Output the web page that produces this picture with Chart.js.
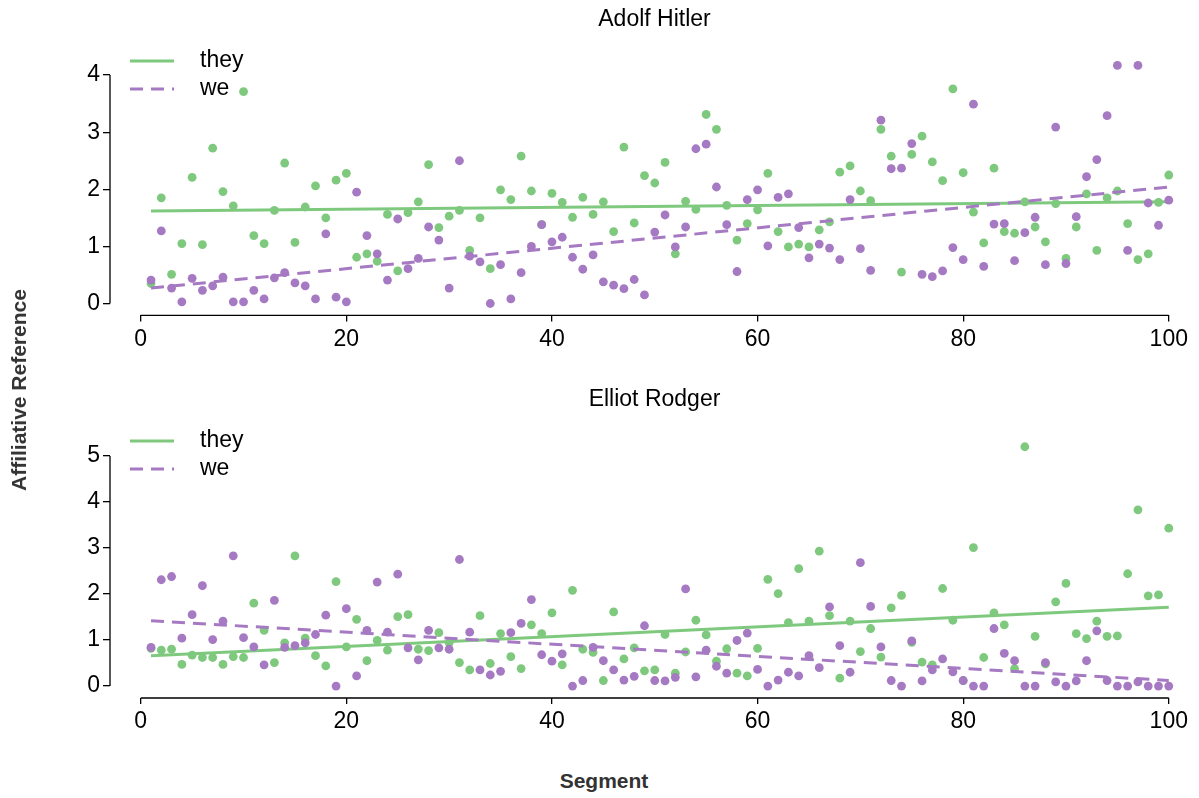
<!DOCTYPE html>
<html>
<head>
<meta charset="utf-8">
<script src="https://cdn.jsdelivr.net/npm/chart.js@4.4.0/dist/chart.umd.min.js"></script>
<style>
  body { margin: 0; background: #fff; width: 1199px; height: 798px; position: relative; overflow: hidden; font-family: "Liberation Sans", Arial, sans-serif; }
  canvas { position: absolute; left: 0; }
  #top { top: 0; }
  #bottom { top: 380px; }
  .lab { position: absolute; font-weight: bold; font-size: 21px; color: #333; white-space: nowrap; }
  #ylab { left: 19px; top: 390px; transform: translate(-50%, -50%) rotate(-90deg); }
  #xlab { left: 604px; top: 781px; transform: translate(-50%, -50%); }
</style>
</head>
<body>
<canvas id="top" width="1199" height="380"></canvas>
<canvas id="bottom" width="1199" height="380"></canvas>
<div class="lab" id="ylab">Affiliative Reference</div>
<div class="lab" id="xlab">Segment</div>
<script>
// segment numbers (x)
var segments = [1,2,3,4,5,6,7,8,9,10,11,12,13,14,15,16,17,18,19,20,
  21,22,23,24,25,26,27,28,29,30,31,32,33,34,35,36,37,38,39,40,
  41,42,43,44,45,46,47,48,49,50,51,52,53,54,55,56,57,58,59,60,
  61,62,63,64,65,66,67,68,69,70,71,72,73,74,75,76,77,78,79,80,
  81,82,83,84,85,86,87,88,89,90,91,92,93,94,95,96,97,98,99,100];

// Adolf Hitler
var hitlerThey = [0.35,1.85,0.51,1.05,2.21,1.03,2.72,1.96,1.71,3.71,1.19,1.05,1.63,2.46,1.07,1.69,2.06,1.50,2.16,2.28,
  0.81,0.87,0.74,1.56,0.57,1.59,1.78,2.43,1.33,1.53,1.63,0.93,1.50,0.61,1.99,1.82,2.58,1.97,1.38,1.93,
  1.77,1.51,1.86,1.56,1.78,1.26,2.74,1.41,2.24,2.11,2.47,0.87,1.79,1.65,3.31,3.05,1.72,1.11,1.40,1.64,
  2.28,1.26,0.99,1.04,0.99,1.29,1.43,2.30,2.41,1.97,1.80,3.05,2.58,0.55,2.61,2.93,2.48,2.15,3.76,2.29,
  1.60,1.06,2.37,1.26,1.23,1.78,1.34,1.08,1.75,0.79,1.34,1.92,0.93,1.85,1.97,1.40,0.77,0.87,1.77,2.25];
var hitlerWe = [0.41,1.27,0.27,0.03,0.44,0.23,0.31,0.46,0.03,0.03,0.23,0.08,0.45,0.54,0.36,0.31,0.08,1.22,0.11,0.03,
  1.95,1.19,0.87,0.41,1.48,0.61,0.79,1.34,1.11,0.27,2.50,0.83,0.73,0.00,0.68,0.08,0.54,1.00,1.38,1.08,
  1.16,0.81,0.60,0.85,0.38,0.32,0.26,0.42,0.15,1.25,1.55,0.99,1.34,2.71,2.79,2.04,1.38,0.56,1.82,1.99,
  1.01,1.86,1.92,1.33,0.80,1.04,0.97,0.77,1.82,0.96,0.58,3.21,2.36,2.37,2.80,0.51,0.47,0.57,0.98,0.77,
  3.49,0.65,1.39,1.40,0.75,1.24,1.51,0.68,3.09,0.70,1.52,2.22,2.52,3.29,4.17,0.93,4.17,1.76,1.37,1.81];

// Elliot Rodger
var rodgerThey = [0.82,0.78,0.80,0.47,0.67,0.62,0.62,0.47,0.64,0.62,1.80,1.21,0.51,0.94,2.83,1.04,0.66,0.44,2.27,0.85,
  1.45,0.55,0.99,0.78,1.51,1.55,0.80,0.77,1.16,0.94,0.51,0.35,1.53,0.49,1.14,0.64,0.38,1.33,1.14,1.59,
  0.46,2.08,0.80,0.73,0.12,1.61,0.59,0.83,0.33,0.35,1.12,0.28,0.74,1.43,1.11,0.54,0.81,0.28,0.22,0.82,
  2.32,2.01,1.38,2.55,1.41,2.93,1.53,0.17,1.41,0.75,1.25,0.63,1.70,1.97,0.95,0.52,0.46,2.12,1.43,0.12,
  3.01,0.62,1.59,1.33,0.38,5.20,1.08,0.48,1.83,2.23,1.14,1.03,1.41,1.08,1.09,2.44,3.83,1.96,1.98,3.43];
var rodgerWe = [0.84,2.31,2.38,1.04,1.55,2.18,1.01,1.41,2.83,1.05,0.85,0.46,1.86,0.84,0.88,0.94,1.12,1.54,0.00,1.68,
  0.22,1.21,2.26,1.17,2.43,0.83,0.57,1.21,0.83,0.80,2.75,1.17,0.35,0.24,0.32,1.16,1.36,1.88,0.68,0.54,
  0.70,0.00,0.12,0.84,0.55,0.35,0.13,0.21,1.31,0.12,0.11,0.19,2.11,0.20,0.78,0.43,0.28,0.99,1.15,0.36,
  0.00,0.13,0.30,0.22,0.66,0.40,1.72,0.88,0.30,2.68,1.73,0.85,0.12,0.00,0.98,0.11,0.35,0.59,0.31,0.12,
  0.00,0.00,1.25,0.71,0.55,0.00,0.00,0.51,0.09,0.00,0.11,0.55,1.20,0.12,0.00,0.00,0.09,0.00,0.00,0.00];

// fitted trend lines, value at segment 1 and segment 100
var fitX = [1, 100];
var hitlerTheyFit = [1.62, 1.78];
var hitlerWeFit = [0.27, 2.04];
var rodgerTheyFit = [0.66, 1.71];
var rodgerWeFit = [1.42, 0.12];

var xTicks = [0, 20, 40, 60, 80, 100];
var hitlerTicks = [0, 1, 2, 3, 4];
var rodgerTicks = [0, 1, 2, 3, 4, 5];

var GREEN = '#7fc97f';
var PURPLE = '#a679c3';
var FONT = '"Liberation Sans", Arial, sans-serif';
Chart.defaults.font.family = FONT;
Chart.defaults.color = '#000';

function pts(ys) { return segments.map(function (s, i) { return { x: s, y: ys[i] }; }); }
function fit(ys) { return fitX.map(function (s, i) { return { x: s, y: ys[i] }; }); }

// trimmed spines (seaborn despine trim style)
var spinePlugin = {
  id: 'spines',
  afterDraw: function (chart) {
    var ctx = chart.ctx, a = chart.chartArea, xs = chart.scales.x, ys = chart.scales.y;
    var yt = chart.options.scales.y.tickValues;
    ctx.save();
    ctx.strokeStyle = '#000';
    ctx.lineWidth = 1.3;
    ctx.beginPath();
    ctx.moveTo(a.left, ys.getPixelForValue(yt[0]));
    ctx.lineTo(a.left, ys.getPixelForValue(yt[yt.length - 1]));
    ctx.moveTo(xs.getPixelForValue(xTicks[0]), a.bottom);
    ctx.lineTo(xs.getPixelForValue(xTicks[xTicks.length - 1]), a.bottom);
    ctx.stroke();
    ctx.restore();
  }
};

// legend inside the plot, upper left
var legendPlugin = {
  id: 'innerLegend',
  afterDraw: function (chart) {
    var ctx = chart.ctx;
    var items = chart.data.datasets.filter(function (d) { return d.inLegend; });
    ctx.save();
    items.forEach(function (d, i) {
      var y = 61 + i * 28;
      ctx.strokeStyle = d.borderColor;
      ctx.lineWidth = 3;
      ctx.setLineDash(d.borderDash || []);
      ctx.beginPath();
      ctx.moveTo(130, y);
      ctx.lineTo(174, y);
      ctx.stroke();
      ctx.setLineDash([]);
      ctx.fillStyle = '#000';
      ctx.font = '23px ' + FONT;
      ctx.textBaseline = 'middle';
      ctx.fillText(d.label, 200, y);
    });
    ctx.restore();
  }
};

function makeChart(id, title, they, we, theyFit, weFit, yMin, yMax, yTicks, titleBottom, xAxisH) {
  new Chart(document.getElementById(id), {
    type: 'scatter',
    data: {
      datasets: [
        { label: 'they pts', data: pts(they), backgroundColor: GREEN, borderWidth: 0, pointRadius: 4.4, order: 4 },
        { label: 'they', type: 'line', data: fit(theyFit), borderColor: GREEN, borderWidth: 3, pointRadius: 0, showLine: true, fill: false, order: 3, inLegend: true },
        { label: 'we pts', data: pts(we), backgroundColor: PURPLE, borderWidth: 0, pointRadius: 4.4, order: 2 },
        { label: 'we', type: 'line', data: fit(weFit), borderColor: PURPLE, borderWidth: 3, borderDash: [13, 8], pointRadius: 0, showLine: true, fill: false, order: 1, inLegend: true }
      ]
    },
    options: {
      responsive: false,
      animation: false,
      events: [],
      layout: { padding: 0, autoPadding: false },
      plugins: {
        legend: { display: false },
        tooltip: { enabled: false },
        title: {
          display: true, text: title, color: '#000', fullSize: false,
          font: { size: 23, weight: 'normal' },
          padding: { top: 6, bottom: titleBottom }
        }
      },
      scales: {
        x: {
          type: 'linear', min: -2.99, max: 102.94,
          afterBuildTicks: function (s) { s.ticks = xTicks.map(function (v) { return { value: v }; }); },
          afterFit: function (s) { s.height = xAxisH; s.paddingLeft = 0; s.paddingRight = 0; },
          grid: { display: true, drawOnChartArea: false, drawTicks: true, tickLength: 6, color: '#000', lineWidth: 1.3 },
          border: { display: false },
          ticks: { color: '#000', font: { size: 23 }, padding: 4, maxRotation: 0, autoSkip: false }
        },
        y: {
          type: 'linear', min: yMin, max: yMax, tickValues: yTicks,
          afterBuildTicks: function (s) { s.ticks = yTicks.map(function (v) { return { value: v }; }); },
          afterFit: function (s) { s.width = 110; s.paddingTop = 0; s.paddingBottom = 0; },
          grid: { display: true, drawOnChartArea: false, drawTicks: true, tickLength: 7, color: '#000', lineWidth: 1.3 },
          border: { display: false },
          ticks: { color: '#000', font: { size: 23 }, padding: 3, autoSkip: false }
        }
      }
    },
    plugins: [spinePlugin, legendPlugin]
  });
}

makeChart('top', 'Adolf Hitler', hitlerThey, hitlerWe, hitlerTheyFit, hitlerWeFit, -0.2085, 4.378, hitlerTicks, 19.9, 64.6);
makeChart('bottom', 'Elliot Rodger', rodgerThey, rodgerWe, rodgerTheyFit, rodgerWeFit, -0.26, 5.46, rodgerTicks, 21.2, 62);
</script>
</body>
</html>
